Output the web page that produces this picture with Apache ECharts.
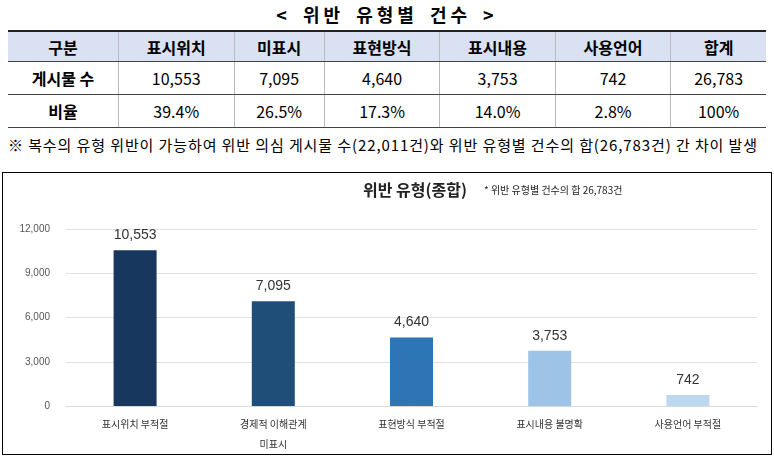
<!DOCTYPE html>
<html><head><meta charset="utf-8">
<script src="https://cdn.jsdelivr.net/npm/echarts@6/dist/echarts.min.js"></script>
<style>
body{margin:0;width:774px;height:457px;background:#fff;font-family:"Noto Sans CJK KR",sans-serif;position:relative;overflow:hidden}
#ttl{position:absolute;top:0;left:0;width:774px;text-align:center;font-size:18px;font-weight:bold;line-height:28px;letter-spacing:4px;word-spacing:4px}
table{position:absolute;top:30px;left:8px;width:758px;border-collapse:collapse;font-size:16px}
td{text-align:center;border-left:1px solid #bbb;border-bottom:1px solid #444;padding:0;color:#000}
td:first-child{border-left:none;font-weight:bold;width:110px}
tr.h td{background:#d9e1f2;font-weight:bold;height:29px;border-top:2px solid #222}
tr.r td{height:32px}
#note{position:absolute;top:134px;left:8px;font-size:15px;white-space:nowrap;letter-spacing:0.9px}
#c{position:absolute;top:172px;left:2px;width:768px;height:281px;border:1px solid #000}
</style></head><body>
<div id="ttl">&lt; 위반 유형별 건수 &gt;</div>
<table id="tb"></table>
<div id="note">※ 복수의 유형 위반이 가능하여 위반 의심 게시물 수(22,011건)와 위반 유형별 건수의 합(26,783건) 간 차이 발생</div>
<div id="c"></div>
<script>
const tableHeads=["구분","표시위치","미표시","표현방식","표시내용","사용언어","합계"];
const countRow=["게시물 수","10,553","7,095","4,640","3,753","742","26,783"];
const ratioRow=["비율","39.4%","26.5%","17.3%","14.0%","2.8%","100%"];
const categories=["표시위치 부적절","경제적 이해관계\n미표시","표현방식 부적절","표시내용 불명확","사용언어 부적절"];
const values=[10553,7095,4640,3753,742];
const colors=["#17375e","#1f4e79","#2e75b6","#9dc3e6","#bdd7ee"];
const yTicks=[0,3000,6000,9000,12000];
let h='<tr class="h">'+tableHeads.map(t=>'<td>'+t+'</td>').join('')+'</tr>';
h+='<tr class="r">'+countRow.map(t=>'<td>'+t+'</td>').join('')+'</tr>';
h+='<tr class="r">'+ratioRow.map(t=>'<td>'+t+'</td>').join('')+'</tr>';
document.getElementById('tb').innerHTML=h;
const ch=echarts.init(document.getElementById('c'));
ch.setOption({
 animation:false,
 title:{text:'위반 유형(종합)',left:355,top:4,textStyle:{fontSize:16,fontWeight:'bold',color:'#222',fontFamily:'Noto Sans CJK KR'}},
 graphic:[{type:'text',left:481,top:12,style:{text:'* 위반 유형별 건수의 합 26,783건',fontSize:10,fill:'#222',fontFamily:'Noto Sans CJK KR'}}],
 grid:{left:63,right:14,top:56,bottom:36},
 xAxis:{type:'category',data:categories,axisTick:{show:false},axisLine:{lineStyle:{color:'#d9d9d9'}},
  axisLabel:{color:'#333',fontSize:10,lineHeight:20,interval:0,fontFamily:'Noto Sans CJK KR'}},
 yAxis:{type:'value',min:0,max:12000,interval:3000,axisLabel:{color:'#555',fontSize:10,formatter:v=>v.toLocaleString('en-US'),margin:16},
  splitLine:{lineStyle:{color:'#e0e0e0'}}},
 series:[{type:'bar',barWidth:43,data:values.map((v,i)=>({value:v,itemStyle:{color:colors[i]}})),
  label:{show:true,position:'top',distance:8,fontSize:14,color:'#333',formatter:p=>p.value.toLocaleString('en-US'),fontFamily:'Liberation Sans'}}]
});
</script></body></html>
